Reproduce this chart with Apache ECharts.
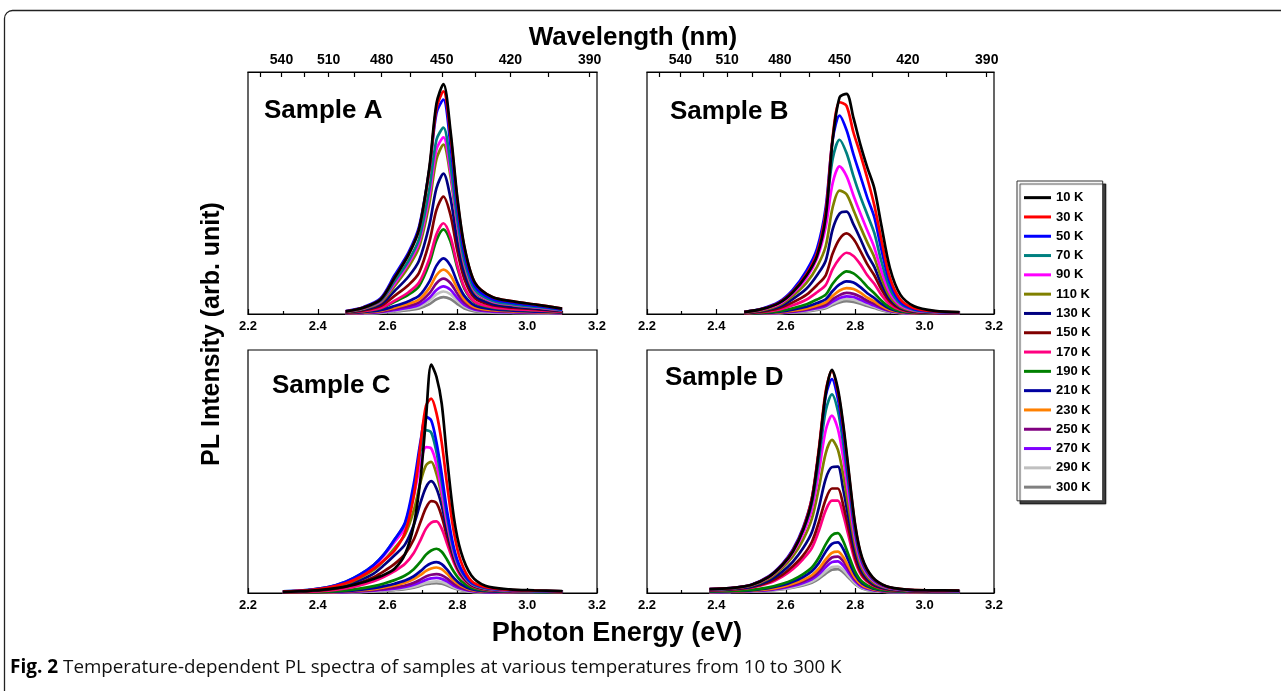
<!DOCTYPE html>
<html>
<head>
<meta charset="utf-8">
<script src="https://cdn.jsdelivr.net/npm/echarts@6/dist/echarts.min.js"></script>
<style>
html,body{margin:0;padding:0;background:#fff;}
#chart{width:1281px;height:691px;}
</style>
</head>
<body>
<div id="chart"></div>
<script>
// ---------- data ----------
const temps = ['10 K','30 K','50 K','70 K','90 K','110 K','130 K','150 K','170 K','190 K','210 K','230 K','250 K','270 K','290 K','300 K'];
const colors = ['#000000','#ff0000','#0000ff','#008080','#ff00ff','#808000','#000080','#800000','#ff0080','#008000','#0000a0','#ff8000','#800080','#8000ff','#c0c0c0','#808080'];

const energyTicks = [2.2, 2.4, 2.6, 2.8, 3.0, 3.2];
const wavelengthLabels = [540, 510, 480, 450, 420, 390];
const wavelengthTicks = [555, 540, 525, 510, 495, 480, 465, 450, 435, 420, 405, 390];

// Sample A
const energyA = [2.48, 2.53, 2.58, 2.62, 2.66, 2.69, 2.72, 2.74, 2.76, 2.78, 2.80, 2.82, 2.85, 2.90, 2.96, 3.03, 3.10];
const sampleA = [
  [1.1, 2.6, 6, 15, 24.5, 35, 61, 87, 95, 76, 48, 28, 13, 7, 5.2, 3.8, 2.2],
  [1.1, 2.6, 6, 15, 24.5, 35, 60, 85, 92, 74, 47, 27.5, 13, 7, 5.2, 3.8, 2.2],
  [1.2, 2.8, 6.5, 16, 25.5, 36, 60, 83, 88.6, 70, 44, 25, 11.5, 6.2, 4.6, 3.3, 1.9],
  [1, 2.4, 5.5, 13.5, 22, 31, 52, 72, 77, 62, 39, 22, 10, 5.5, 4, 2.9, 1.7],
  [1, 2.3, 5.2, 12.5, 21, 29.5, 49, 68, 73, 59, 37, 21, 9.5, 5.2, 3.8, 2.7, 1.6],
  [0.9, 2.1, 4.8, 11.5, 19.5, 27.5, 46, 64, 70, 57, 36, 20, 9, 5, 3.6, 2.6, 1.5],
  [0.8, 1.8, 4, 9.5, 15.5, 22, 37, 52, 58, 48, 30, 17, 7.5, 4.2, 3, 2.2, 1.3],
  [0.7, 1.5, 3.3, 7.5, 12, 17, 30, 43, 48.5, 41, 26, 14.5, 6.5, 3.6, 2.6, 1.9, 1.1],
  [0.6, 1.2, 2.5, 5.5, 9, 13, 23, 33, 37.5, 32, 20, 11, 5, 2.8, 2, 1.5, 0.9],
  [0.5, 1.1, 2.3, 5, 8, 11.5, 21, 30.5, 35, 30, 19, 10.5, 4.7, 2.6, 1.9, 1.4, 0.8],
  [0.4, 0.8, 1.6, 3.3, 5.3, 7.5, 13.5, 20, 23, 20, 13, 7.5, 3.5, 2, 1.4, 1, 0.6],
  [0.3, 0.6, 1.3, 2.6, 4.2, 6, 10.8, 16, 18.3, 16, 10.5, 6, 2.8, 1.6, 1.1, 0.8, 0.5],
  [0.3, 0.5, 1, 2.1, 3.3, 4.8, 8.6, 12.7, 14.6, 12.8, 8.4, 4.8, 2.2, 1.3, 0.9, 0.7, 0.4],
  [0.2, 0.4, 0.8, 1.6, 2.6, 3.7, 6.7, 9.9, 11.4, 10, 6.6, 3.8, 1.8, 1, 0.7, 0.5, 0.3],
  [0.2, 0.3, 0.6, 1.3, 2.1, 3, 5.5, 8.1, 9.3, 8.2, 5.4, 3.1, 1.5, 0.8, 0.6, 0.4, 0.3],
  [0.1, 0.2, 0.5, 1, 1.6, 2.3, 4.1, 6.1, 7, 6.2, 4.1, 2.3, 1.1, 0.6, 0.4, 0.3, 0.2]
];

// Sample B
const energyB = [2.48, 2.53, 2.58, 2.62, 2.66, 2.69, 2.715, 2.735, 2.755, 2.775, 2.795, 2.815, 2.835, 2.855, 2.875, 2.90, 2.93, 2.97, 3.03, 3.10];
const sampleB = [
  [0.8, 2, 4.5, 9, 16, 24, 40, 72, 89.5, 91, 81, 70, 60.5, 52, 37, 19, 8, 3.2, 1.3, 0.8],
  [0.8, 2, 4.6, 9.2, 16.5, 25, 42, 73, 87.5, 86, 75, 66, 56, 45, 31, 15, 6, 2.4, 1.1, 0.7],
  [0.9, 2.2, 5, 10, 18, 27, 44, 72, 82, 76, 66, 57, 48, 40, 27, 13, 5, 2, 1, 0.6],
  [0.8, 2, 4.6, 9.5, 17, 25.5, 42, 64, 72, 66.5, 57, 48.5, 41, 33.5, 22, 10.5, 4.3, 1.7, 0.9, 0.5],
  [0.7, 1.8, 4.1, 8.5, 15, 23, 36, 54, 61, 57, 49, 41.5, 34.5, 27.5, 18, 8.7, 3.6, 1.5, 0.8, 0.5],
  [0.6, 1.5, 3.6, 7.5, 13, 19.5, 28, 44, 51, 49.5, 43, 36, 29.5, 23.5, 15, 7.2, 3, 1.3, 0.7, 0.4],
  [0.5, 1.3, 3, 6.2, 10.5, 16, 22, 35, 41.5, 42.3, 37, 31, 24.5, 19.5, 12.5, 6.1, 2.6, 1.1, 0.6, 0.3],
  [0.4, 1, 2.4, 4.8, 8, 12, 16, 25, 31, 33.3, 31, 26, 20.5, 16, 10.3, 5.1, 2.2, 0.9, 0.5, 0.3],
  [0.3, 0.8, 1.8, 3.6, 6, 9, 12, 18.5, 23, 25.3, 24, 20.5, 16, 12.5, 8, 4, 1.8, 0.8, 0.4, 0.2],
  [0.2, 0.5, 1.2, 2.4, 4, 6, 8, 12.5, 15.8, 17.6, 16.8, 14.4, 11.2, 8.6, 5.6, 2.8, 1.3, 0.6, 0.3, 0.2],
  [0.2, 0.4, 0.9, 1.8, 3, 4.5, 6.1, 9.5, 12.2, 13.5, 13, 11.1, 8.6, 6.6, 4.3, 2.2, 1, 0.5, 0.3, 0.1],
  [0.1, 0.3, 0.7, 1.4, 2.3, 3.5, 4.8, 7.5, 9.7, 10.7, 10.3, 8.8, 6.8, 5.2, 3.4, 1.7, 0.8, 0.4, 0.2, 0.1],
  [0.1, 0.3, 0.6, 1.1, 1.9, 2.9, 3.9, 6.1, 7.8, 8.7, 8.3, 7.1, 5.5, 4.2, 2.7, 1.4, 0.7, 0.3, 0.2, 0.1],
  [0.1, 0.2, 0.5, 0.9, 1.6, 2.4, 3.3, 5.1, 6.6, 7.3, 7, 5.9, 4.6, 3.5, 2.3, 1.2, 0.6, 0.3, 0.1, 0.1],
  [0.1, 0.2, 0.4, 0.8, 1.3, 2, 2.8, 4.3, 5.6, 6.2, 5.9, 5, 3.9, 3, 1.9, 1, 0.5, 0.2, 0.1, 0.1],
  [0.1, 0.2, 0.3, 0.7, 1.1, 1.7, 2.4, 3.7, 4.8, 5.3, 5, 4.3, 3.3, 2.5, 1.6, 0.8, 0.4, 0.2, 0.1, 0.1]
];

// Sample C
const energyC = [2.30, 2.37, 2.43, 2.48, 2.52, 2.56, 2.59, 2.62, 2.65, 2.675, 2.695, 2.71, 2.725, 2.74, 2.755, 2.77, 2.79, 2.81, 2.84, 2.88, 2.95, 3.02, 3.10];
const sampleC = [
  [0.5, 0.9, 1.6, 2.6, 4, 5.8, 7.5, 10, 16, 28, 48, 72, 94, 89, 78, 56, 31, 17, 7.2, 3, 1.5, 1.1, 0.8],
  [0.6, 1.1, 2.2, 4, 6.5, 10, 13.5, 17.5, 25, 40, 62, 77, 80, 74, 62, 45, 25, 13, 5, 2.4, 1.3, 1, 0.7],
  [0.7, 1.2, 2.4, 4.6, 7.5, 11.5, 16, 22, 29, 45, 63, 72.5, 71, 62, 49, 34, 18.5, 10, 4.3, 2.2, 1.2, 0.9, 0.7],
  [0.7, 1.2, 2.4, 4.6, 7.5, 11.5, 16, 22, 28.5, 43, 59, 67, 66, 58, 46, 32, 17.5, 9.5, 4, 2, 1.1, 0.8, 0.6],
  [0.6, 1.1, 2.3, 4.4, 7.2, 11, 15.5, 21, 27, 40, 54, 60, 59.5, 53, 42, 29.5, 16.5, 9, 3.8, 1.9, 1, 0.8, 0.6],
  [0.6, 1, 2, 3.8, 6.2, 9.5, 13.5, 18.5, 24, 34, 46, 52.5, 54, 49, 40, 28.5, 16, 8.8, 3.7, 1.8, 1, 0.7, 0.5],
  [0.5, 0.9, 1.7, 3.2, 5.2, 8, 11.5, 15.5, 20, 28, 37.5, 43.5, 46, 43, 36, 26, 15, 8.3, 3.5, 1.7, 0.9, 0.7, 0.5],
  [0.4, 0.7, 1.4, 2.6, 4.2, 6.5, 9, 12, 16, 22, 29.5, 35, 37.8, 37, 31.5, 23.5, 13.8, 7.7, 3.3, 1.6, 0.9, 0.6, 0.5],
  [0.3, 0.5, 1, 1.9, 3.1, 4.8, 6.7, 9, 12, 16.5, 22, 26.5, 29, 29.5, 26.5, 20.5, 12.5, 7, 3, 1.4, 0.8, 0.6, 0.4],
  [0.2, 0.3, 0.6, 1.1, 1.8, 2.8, 3.9, 5.3, 7.2, 9.8, 13, 15.8, 17.5, 18.2, 17, 13.8, 8.7, 5, 2.2, 1.1, 0.6, 0.4, 0.3],
  [0.2, 0.3, 0.5, 0.8, 1.3, 2, 2.8, 3.8, 5.1, 6.9, 9.1, 11, 12.2, 12.7, 11.9, 9.7, 6.1, 3.6, 1.6, 0.8, 0.5, 0.3, 0.2],
  [0.1, 0.2, 0.4, 0.7, 1.1, 1.6, 2.3, 3.1, 4.2, 5.7, 7.5, 9.1, 10.1, 10.5, 9.8, 8, 5, 3, 1.3, 0.7, 0.4, 0.3, 0.2],
  [0.1, 0.2, 0.3, 0.5, 0.8, 1.2, 1.7, 2.3, 3.1, 4.2, 5.6, 6.8, 7.5, 7.8, 7.3, 6, 3.8, 2.2, 1, 0.5, 0.3, 0.2, 0.1],
  [0.1, 0.1, 0.2, 0.4, 0.7, 1, 1.4, 1.8, 2.5, 3.4, 4.5, 5.4, 6, 6.2, 5.8, 4.8, 3, 1.8, 0.8, 0.4, 0.2, 0.2, 0.1],
  [0.1, 0.1, 0.2, 0.3, 0.5, 0.8, 1.1, 1.4, 1.9, 2.6, 3.5, 4.2, 4.6, 4.8, 4.5, 3.7, 2.3, 1.4, 0.6, 0.3, 0.2, 0.1, 0.1],
  [0.1, 0.1, 0.2, 0.3, 0.4, 0.7, 0.9, 1.2, 1.6, 2.2, 3, 3.6, 3.9, 4.1, 3.8, 3.1, 2, 1.2, 0.5, 0.3, 0.2, 0.1, 0.1]
];

// Sample D
const energyD = [2.38, 2.44, 2.50, 2.55, 2.59, 2.62, 2.65, 2.675, 2.695, 2.715, 2.733, 2.75, 2.765, 2.78, 2.80, 2.82, 2.85, 2.89, 2.95, 3.02, 3.10];
const sampleD = [
  [1.6, 2, 3.3, 6.5, 11.5, 17, 26, 38, 58, 82, 91.8, 84, 70, 52, 28, 14.5, 6.5, 2.8, 1.4, 1.1, 1],
  [1.6, 2, 3.3, 6.6, 11.7, 17.3, 26.5, 39, 59, 83, 91.5, 83, 69, 51, 27.5, 14, 6.3, 2.7, 1.4, 1.1, 1],
  [1.6, 2, 3.4, 6.8, 12, 17.8, 27, 39, 58, 81, 88, 80, 66, 48.5, 26, 13.3, 6, 2.6, 1.3, 1, 0.9],
  [1.5, 1.9, 3.3, 6.6, 11.7, 17.3, 26, 37, 54.5, 75, 81.7, 75, 62, 45.5, 24.5, 12.5, 5.7, 2.5, 1.3, 1, 0.9],
  [1.5, 1.9, 3.2, 6.3, 11.2, 16.5, 24.5, 34.5, 49.5, 67, 73, 67.5, 56, 41, 22, 11.3, 5.2, 2.3, 1.2, 0.9, 0.8],
  [1.4, 1.8, 3, 5.8, 10.3, 15, 22, 30.5, 43, 57.5, 63, 59, 49, 36, 19.5, 10, 4.6, 2.1, 1.1, 0.9, 0.8],
  [1.3, 1.6, 2.6, 5, 8.8, 12.8, 18.5, 25, 35, 47, 51.8, 52, 43, 31.5, 17, 8.8, 4, 1.8, 1, 0.8, 0.7],
  [1.2, 1.5, 2.4, 4.4, 7.5, 11, 15.5, 21, 29, 38.5, 43, 43, 36.5, 27, 14.5, 7.5, 3.5, 1.6, 0.9, 0.7, 0.6],
  [1.1, 1.4, 2.2, 4, 6.8, 9.8, 14, 18.5, 25.5, 34, 38, 38, 32.5, 24, 13, 6.8, 3.2, 1.5, 0.9, 0.7, 0.6],
  [0.7, 0.9, 1.3, 2.3, 3.8, 5.4, 7.8, 10.5, 14.5, 20, 23.8, 24.6, 21.5, 16, 8.8, 4.6, 2.2, 1.1, 0.7, 0.5, 0.4],
  [0.6, 0.8, 1.1, 2, 3.2, 4.6, 6.6, 9, 12.3, 17, 20.2, 20.8, 18.2, 13.6, 7.5, 3.9, 1.9, 0.9, 0.6, 0.4, 0.3],
  [0.5, 0.7, 1, 1.6, 2.6, 3.8, 5.4, 7.3, 10, 13.8, 16.5, 17, 14.9, 11.2, 6.2, 3.2, 1.6, 0.8, 0.5, 0.3, 0.3],
  [0.5, 0.6, 0.9, 1.4, 2.3, 3.3, 4.8, 6.4, 8.8, 12.2, 14.6, 15, 13.2, 9.9, 5.5, 2.9, 1.4, 0.7, 0.4, 0.3, 0.2],
  [0.4, 0.5, 0.8, 1.2, 2, 2.9, 4.1, 5.6, 7.7, 10.6, 12.7, 13, 11.4, 8.6, 4.8, 2.5, 1.2, 0.6, 0.4, 0.3, 0.2],
  [0.4, 0.5, 0.7, 1.1, 1.7, 2.4, 3.5, 4.7, 6.5, 8.9, 10.7, 10.9, 9.6, 7.2, 4, 2.1, 1, 0.5, 0.3, 0.2, 0.2],
  [0.3, 0.4, 0.6, 1, 1.5, 2.2, 3.1, 4.2, 5.8, 8, 9.6, 9.8, 8.6, 6.5, 3.6, 1.9, 0.9, 0.5, 0.3, 0.2, 0.2]
];

const panels = [
  {name: 'Sample A', x: energyA, ys: sampleA},
  {name: 'Sample B', x: energyB, ys: sampleB},
  {name: 'Sample C', x: energyC, ys: sampleC},
  {name: 'Sample D', x: energyD, ys: sampleD}
];

// ---------- layout ----------
const FONT = '"Liberation Sans", Arial, sans-serif';
const grids = [
  {left: 248, top: 72, width: 349, height: 242},
  {left: 647, top: 72, width: 347, height: 242},
  {left: 248, top: 350, width: 349, height: 243},
  {left: 647, top: 350, width: 347, height: 243}
];
const labelPos = [[264, 111], [670, 112], [272, 386], [665, 378]];

const HC = 1239.84;
const chart = echarts.init(document.getElementById('chart'), null, {renderer: 'canvas'});

const xAxes = [];
const yAxes = [];
grids.forEach((g, i) => {
  xAxes.push({
    type: 'value', gridIndex: i, position: 'bottom', min: 2.2, max: 3.2, interval: 0.2,
    axisLine: {show: true, onZero: false, lineStyle: {color: '#000', width: 1.2}},
    axisTick: {show: true, inside: true, length: 5, lineStyle: {color: '#000', width: 1.2}},
    minorTick: {show: true, splitNumber: 2, length: 3, lineStyle: {color: '#000', width: 1.2}},
    axisLabel: {color: '#000', fontFamily: FONT, fontWeight: 'bold', fontSize: 13, margin: 6,
      formatter: v => v.toFixed(1)},
    splitLine: {show: false}
  });
  yAxes.push({type: 'value', gridIndex: i, min: 0, max: 100, show: false});
});
[0, 1].forEach(i => {
  xAxes.push({
    type: 'value', gridIndex: i, position: 'top', min: 2.2, max: 3.2,
    axisLine: {show: true, onZero: false, lineStyle: {color: '#000', width: 1.2}},
    axisTick: {show: true, inside: true, length: 5, lineStyle: {color: '#000', width: 1.2},
      customValues: wavelengthTicks.map(w => HC / w)},
    axisLabel: {color: '#000', fontFamily: FONT, fontWeight: 'bold', fontSize: 14, margin: 5,
      customValues: wavelengthLabels.map(w => HC / w),
      formatter: v => String(Math.round(HC / v))},
    splitLine: {show: false}
  });
});

const series = [];
panels.forEach((p, gi) => {
  for (let t = temps.length - 1; t >= 0; t--) {
    series.push({
      type: 'line', name: temps[t], xAxisIndex: gi, yAxisIndex: gi,
      data: p.x.map((e, k) => [e, p.ys[t][k]]),
      showSymbol: false, smooth: 0.3, silent: true,
      color: colors[t],
      lineStyle: {color: colors[t], width: 2.7},
      z: 2
    });
  }
});

const graphics = [
  {type: 'rect', left: 2, top: 8, shape: {width: 1400, height: 800, r: 8}, style: {fill: 'none', stroke: '#222', lineWidth: 1.3}, silent: true, z: -10},
  {type: 'text', x: 633, y: 38, style: {text: 'Wavelength (nm)', font: 'bold 26px ' + FONT, fill: '#000', textAlign: 'center', textVerticalAlign: 'middle'}},
  {type: 'text', x: 617, y: 634, style: {text: 'Photon Energy (eV)', font: 'bold 27px ' + FONT, fill: '#000', textAlign: 'center', textVerticalAlign: 'middle'}},
  {type: 'text', x: 212, y: 334, rotation: Math.PI / 2, style: {text: 'PL Intensity (arb. unit)', font: 'bold 25px ' + FONT, fill: '#000', textAlign: 'center', textVerticalAlign: 'middle'}},
  {type: 'text', x: 10, y: 668, style: {
    text: '{b|Fig. 2} Temperature-dependent PL spectra of samples at various temperatures from 10 to 300 K',
    rich: {b: {font: 'bold 19px "Open Sans", sans-serif', fill: '#000'}},
    font: '18.8px "Open Sans", sans-serif', fill: '#111', textVerticalAlign: 'middle'}}
];
panels.forEach((p, i) => {
  graphics.push({type: 'text', x: labelPos[i][0], y: labelPos[i][1], style: {text: p.name, font: 'bold 26px ' + FONT, fill: '#000', textVerticalAlign: 'middle'}, z: 10});
});

chart.setOption({
  animation: false,
  backgroundColor: '#fff',
  grid: grids.map(g => Object.assign({show: true, borderColor: '#000', borderWidth: 1.2, backgroundColor: 'transparent'}, g)),
  xAxis: xAxes,
  yAxis: yAxes,
  legend: {
    data: temps, orient: 'vertical', left: 1017, top: 181,
    icon: 'rect', itemWidth: 27, itemHeight: 3, itemGap: 0,
    padding: [7, 12, 4, 7],
    textStyle: {fontFamily: FONT, fontWeight: 'bold', fontSize: 13, color: '#000', lineHeight: 19.3, padding: [0, 0, 0, 0]},
    backgroundColor: '#fff', borderColor: '#333', borderWidth: 1,
    shadowColor: 'rgba(0,0,0,0.75)', shadowBlur: 1, shadowOffsetX: 3, shadowOffsetY: 3,
    selectedMode: false
  },
  series: series,
  graphic: graphics
});
</script>
</body>
</html>
